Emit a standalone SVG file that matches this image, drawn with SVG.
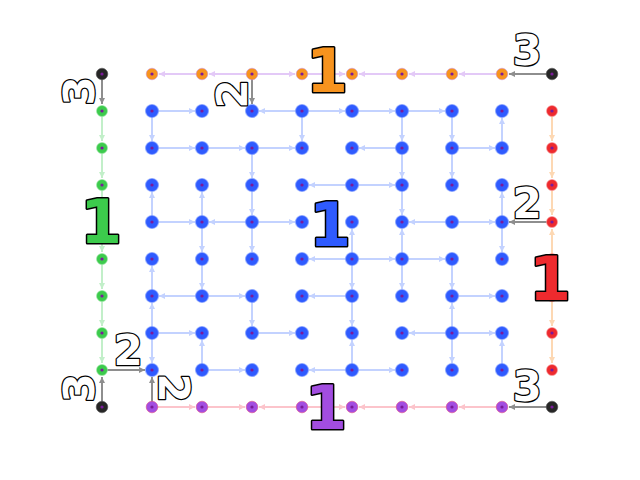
<svg xmlns="http://www.w3.org/2000/svg" xmlns:xlink="http://www.w3.org/1999/xlink" width="640" height="480" viewBox="0 0 640 480">
<style>
.e{fill:none;stroke-width:2;stroke-linecap:butt}
.eb{stroke:#c3d2ff;marker-end:url(#ab)}
.el{stroke:#e3c9f7;marker-end:url(#al)}
.eg{stroke:#c2efc9;marker-end:url(#ag)}
.eo{stroke:#fdd8b3;marker-end:url(#ao)}
.ep{stroke:#fcc4cb;marker-end:url(#ap)}
.ek{stroke:#8e8e8e;marker-end:url(#ak)}
.t1{font-family:"DejaVu Sans",sans-serif;font-weight:bold;font-size:60px;stroke:#000;stroke-width:3;stroke-linejoin:round;paint-order:stroke;text-anchor:middle}
.t2{font-family:"DejaVu Sans",sans-serif;font-weight:bold;font-size:42px;fill:#fff;stroke:#000;stroke-width:2.5;stroke-linejoin:round;paint-order:stroke;text-anchor:middle}
.d{fill:#7a1a9a}
</style>
<defs>
<marker id="ab" markerUnits="userSpaceOnUse" markerWidth="6" markerHeight="6" refX="6" refY="3" orient="auto"><path d="M0,0L6,3L0,6z" fill="#c3d2ff"/></marker>
<marker id="al" markerUnits="userSpaceOnUse" markerWidth="6" markerHeight="6" refX="6" refY="3" orient="auto"><path d="M0,0L6,3L0,6z" fill="#e3c9f7"/></marker>
<marker id="ag" markerUnits="userSpaceOnUse" markerWidth="6" markerHeight="6" refX="6" refY="3" orient="auto"><path d="M0,0L6,3L0,6z" fill="#c2efc9"/></marker>
<marker id="ao" markerUnits="userSpaceOnUse" markerWidth="6" markerHeight="6" refX="6" refY="3" orient="auto"><path d="M0,0L6,3L0,6z" fill="#fdd8b3"/></marker>
<marker id="ap" markerUnits="userSpaceOnUse" markerWidth="6" markerHeight="6" refX="6" refY="3" orient="auto"><path d="M0,0L6,3L0,6z" fill="#fcc4cb"/></marker>
<marker id="ak" markerUnits="userSpaceOnUse" markerWidth="6" markerHeight="6" refX="6" refY="3" orient="auto"><path d="M0,0L6,3L0,6z" fill="#8e8e8e"/></marker>
<g id="nb"><circle r="6.5" fill="#2f5bff" stroke="#7f9cff" stroke-opacity="0.6" stroke-width="1.2"/><circle r="1.6" class="d"/></g>
<g id="no"><circle r="5.8" fill="#f7931e" stroke="#c98ad8" stroke-opacity="0.5" stroke-width="1"/><circle r="1.6" class="d"/></g>
<g id="ng"><circle r="5.5" fill="#3ccb4c" stroke="#9fe8a8" stroke-opacity="0.6" stroke-width="1"/><circle r="1.6" class="d"/></g>
<g id="nr"><circle r="5.5" fill="#ee2a2e" stroke="#f7a0a0" stroke-opacity="0.6" stroke-width="1"/><circle r="1.6" class="d"/></g>
<g id="np"><circle r="5.8" fill="#a24de0" stroke="#e0508a" stroke-opacity="0.6" stroke-width="1"/><circle r="1.6" class="d"/></g>
<g id="nk"><circle r="5.8" fill="#262626" stroke="#555" stroke-opacity="0.6" stroke-width="1"/><circle r="1.6" class="d"/></g>
</defs>
<rect width="640" height="480" fill="#fff"/>
<g id="connectors">
<g id="blue-h">
<line class="e eb" x1="152" y1="111" x2="195" y2="111"/>
<line class="e eb" x1="302" y1="111" x2="259" y2="111"/>
<line class="e eb" x1="302" y1="111" x2="345" y2="111"/>
<line class="e eb" x1="352" y1="111" x2="395" y2="111"/>
<line class="e eb" x1="402" y1="111" x2="445" y2="111"/>
<line class="e eb" x1="152" y1="148" x2="195" y2="148"/>
<line class="e eb" x1="202" y1="148" x2="245" y2="148"/>
<line class="e eb" x1="252" y1="148" x2="295" y2="148"/>
<line class="e eb" x1="402" y1="148" x2="359" y2="148"/>
<line class="e eb" x1="452" y1="148" x2="495" y2="148"/>
<line class="e eb" x1="352" y1="185" x2="309" y2="185"/>
<line class="e eb" x1="352" y1="185" x2="395" y2="185"/>
<line class="e eb" x1="152" y1="222" x2="195" y2="222"/>
<line class="e eb" x1="252" y1="222" x2="209" y2="222"/>
<line class="e eb" x1="252" y1="222" x2="295" y2="222"/>
<line class="e eb" x1="452" y1="222" x2="409" y2="222"/>
<line class="e eb" x1="452" y1="222" x2="495" y2="222"/>
<line class="e eb" x1="352" y1="259" x2="309" y2="259"/>
<line class="e eb" x1="352" y1="259" x2="395" y2="259"/>
<line class="e eb" x1="402" y1="259" x2="445" y2="259"/>
<line class="e eb" x1="202" y1="296" x2="159" y2="296"/>
<line class="e eb" x1="202" y1="296" x2="245" y2="296"/>
<line class="e eb" x1="352" y1="296" x2="309" y2="296"/>
<line class="e eb" x1="452" y1="296" x2="495" y2="296"/>
<line class="e eb" x1="152" y1="333" x2="195" y2="333"/>
<line class="e eb" x1="252" y1="333" x2="295" y2="333"/>
<line class="e eb" x1="452" y1="333" x2="409" y2="333"/>
<line class="e eb" x1="452" y1="333" x2="495" y2="333"/>
<line class="e eb" x1="202" y1="370" x2="245" y2="370"/>
<line class="e eb" x1="352" y1="370" x2="309" y2="370"/>
<line class="e eb" x1="352" y1="370" x2="395" y2="370"/>
</g>
<g id="blue-v">
<line class="e eb" x1="152" y1="111" x2="152" y2="141"/>
<line class="e eb" x1="152" y1="222" x2="152" y2="192"/>
<line class="e eb" x1="152" y1="296" x2="152" y2="266"/>
<line class="e eb" x1="152" y1="333" x2="152" y2="303"/>
<line class="e eb" x1="152" y1="333" x2="152" y2="363"/>
<line class="e eb" x1="202" y1="222" x2="202" y2="192"/>
<line class="e eb" x1="202" y1="222" x2="202" y2="252"/>
<line class="e eb" x1="202" y1="259" x2="202" y2="289"/>
<line class="e eb" x1="202" y1="370" x2="202" y2="340"/>
<line class="e eb" x1="252" y1="148" x2="252" y2="178"/>
<line class="e eb" x1="252" y1="185" x2="252" y2="215"/>
<line class="e eb" x1="252" y1="222" x2="252" y2="252"/>
<line class="e eb" x1="252" y1="296" x2="252" y2="326"/>
<line class="e eb" x1="302" y1="111" x2="302" y2="141"/>
<line class="e eb" x1="352" y1="259" x2="352" y2="229"/>
<line class="e eb" x1="352" y1="259" x2="352" y2="289"/>
<line class="e eb" x1="352" y1="296" x2="352" y2="326"/>
<line class="e eb" x1="352" y1="370" x2="352" y2="340"/>
<line class="e eb" x1="402" y1="111" x2="402" y2="141"/>
<line class="e eb" x1="402" y1="148" x2="402" y2="178"/>
<line class="e eb" x1="402" y1="185" x2="402" y2="215"/>
<line class="e eb" x1="402" y1="259" x2="402" y2="229"/>
<line class="e eb" x1="402" y1="259" x2="402" y2="289"/>
<line class="e eb" x1="452" y1="111" x2="452" y2="141"/>
<line class="e eb" x1="452" y1="148" x2="452" y2="178"/>
<line class="e eb" x1="452" y1="259" x2="452" y2="289"/>
<line class="e eb" x1="452" y1="333" x2="452" y2="303"/>
<line class="e eb" x1="452" y1="333" x2="452" y2="363"/>
<line class="e eb" x1="502" y1="148" x2="502" y2="118"/>
<line class="e eb" x1="502" y1="222" x2="502" y2="192"/>
<line class="e eb" x1="502" y1="222" x2="502" y2="252"/>
<line class="e eb" x1="502" y1="370" x2="502" y2="340"/>
</g>
<g id="top-row">
<line class="e el" x1="202" y1="74" x2="159" y2="74"/>
<line class="e el" x1="252" y1="74" x2="209" y2="74"/>
<line class="e el" x1="252" y1="74" x2="295" y2="74"/>
<line class="e el" x1="302" y1="74" x2="345" y2="74"/>
<line class="e el" x1="402" y1="74" x2="359" y2="74"/>
<line class="e el" x1="452" y1="74" x2="409" y2="74"/>
<line class="e el" x1="502" y1="74" x2="459" y2="74"/>
</g>
<g id="left-col">
<line class="e eg" x1="102" y1="111" x2="102" y2="141"/>
<line class="e eg" x1="102" y1="148" x2="102" y2="178"/>
<line class="e eg" x1="102" y1="185" x2="102" y2="215"/>
<line class="e eg" x1="102" y1="222" x2="102" y2="252"/>
<line class="e eg" x1="102" y1="259" x2="102" y2="289"/>
<line class="e eg" x1="102" y1="296" x2="102" y2="326"/>
<line class="e eg" x1="102" y1="333" x2="102" y2="363"/>
</g>
<g id="right-col">
<line class="e eo" x1="552" y1="111" x2="552" y2="141"/>
<line class="e eo" x1="552" y1="148" x2="552" y2="178"/>
<line class="e eo" x1="552" y1="185" x2="552" y2="215"/>
<line class="e eo" x1="552" y1="259" x2="552" y2="229"/>
<line class="e eo" x1="552" y1="259" x2="552" y2="289"/>
<line class="e eo" x1="552" y1="296" x2="552" y2="326"/>
<line class="e eo" x1="552" y1="333" x2="552" y2="363"/>
</g>
<g id="bottom-row">
<line class="e ep" x1="152" y1="407" x2="195" y2="407"/>
<line class="e ep" x1="202" y1="407" x2="245" y2="407"/>
<line class="e ep" x1="302" y1="407" x2="259" y2="407"/>
<line class="e ep" x1="302" y1="407" x2="345" y2="407"/>
<line class="e ep" x1="402" y1="407" x2="359" y2="407"/>
<line class="e ep" x1="452" y1="407" x2="409" y2="407"/>
<line class="e ep" x1="502" y1="407" x2="459" y2="407"/>
</g>
<g id="gray">
<line class="e ek" x1="102" y1="74" x2="102" y2="104"/>
<line class="e ek" x1="552" y1="74" x2="509" y2="74"/>
<line class="e ek" x1="252" y1="74" x2="252" y2="104"/>
<line class="e ek" x1="102" y1="370" x2="145" y2="370"/>
<line class="e ek" x1="102" y1="407" x2="102" y2="377"/>
<line class="e ek" x1="152" y1="407" x2="152" y2="377"/>
<line class="e ek" x1="552" y1="222" x2="509" y2="222"/>
<line class="e ek" x1="552" y1="407" x2="509" y2="407"/>
</g>
</g>
<g id="k-tl"><use href="#nk" x="102" y="74"/></g>
<g id="k-tr"><use href="#nk" x="552" y="74"/></g>
<g id="k-bl"><use href="#nk" x="102" y="407"/></g>
<g id="k-br"><use href="#nk" x="552" y="407"/></g>
<g id="o1"><use href="#no" x="152" y="74"/></g>
<g id="o2"><use href="#no" x="202" y="74"/></g>
<g id="o3"><use href="#no" x="252" y="74"/></g>
<g id="o4"><use href="#no" x="302" y="74"/></g>
<g id="o5"><use href="#no" x="352" y="74"/></g>
<g id="o6"><use href="#no" x="402" y="74"/></g>
<g id="o7"><use href="#no" x="452" y="74"/></g>
<g id="o8"><use href="#no" x="502" y="74"/></g>
<g id="p1"><use href="#np" x="152" y="407"/></g>
<g id="p2"><use href="#np" x="202" y="407"/></g>
<g id="p3"><use href="#np" x="252" y="407"/></g>
<g id="p4"><use href="#np" x="302" y="407"/></g>
<g id="p5"><use href="#np" x="352" y="407"/></g>
<g id="p6"><use href="#np" x="402" y="407"/></g>
<g id="p7"><use href="#np" x="452" y="407"/></g>
<g id="p8"><use href="#np" x="502" y="407"/></g>
<g id="g1"><use href="#ng" x="102" y="111"/></g>
<g id="g2"><use href="#ng" x="102" y="148"/></g>
<g id="g3"><use href="#ng" x="102" y="185"/></g>
<g id="g4"><use href="#ng" x="102" y="222"/></g>
<g id="g5"><use href="#ng" x="102" y="259"/></g>
<g id="g6"><use href="#ng" x="102" y="296"/></g>
<g id="g7"><use href="#ng" x="102" y="333"/></g>
<g id="g8"><use href="#ng" x="102" y="370"/></g>
<g id="r1"><use href="#nr" x="552" y="111"/></g>
<g id="r2"><use href="#nr" x="552" y="148"/></g>
<g id="r3"><use href="#nr" x="552" y="185"/></g>
<g id="r4"><use href="#nr" x="552" y="222"/></g>
<g id="r5"><use href="#nr" x="552" y="259"/></g>
<g id="r6"><use href="#nr" x="552" y="296"/></g>
<g id="r7"><use href="#nr" x="552" y="333"/></g>
<g id="r8"><use href="#nr" x="552" y="370"/></g>
<g id="b00"><use href="#nb" x="152" y="111"/></g><g id="b01"><use href="#nb" x="202" y="111"/></g><g id="b02"><use href="#nb" x="252" y="111"/></g><g id="b03"><use href="#nb" x="302" y="111"/></g><g id="b04"><use href="#nb" x="352" y="111"/></g><g id="b05"><use href="#nb" x="402" y="111"/></g><g id="b06"><use href="#nb" x="452" y="111"/></g><g id="b07"><use href="#nb" x="502" y="111"/></g>
<g id="b10"><use href="#nb" x="152" y="148"/></g><g id="b11"><use href="#nb" x="202" y="148"/></g><g id="b12"><use href="#nb" x="252" y="148"/></g><g id="b13"><use href="#nb" x="302" y="148"/></g><g id="b14"><use href="#nb" x="352" y="148"/></g><g id="b15"><use href="#nb" x="402" y="148"/></g><g id="b16"><use href="#nb" x="452" y="148"/></g><g id="b17"><use href="#nb" x="502" y="148"/></g>
<g id="b20"><use href="#nb" x="152" y="185"/></g><g id="b21"><use href="#nb" x="202" y="185"/></g><g id="b22"><use href="#nb" x="252" y="185"/></g><g id="b23"><use href="#nb" x="302" y="185"/></g><g id="b24"><use href="#nb" x="352" y="185"/></g><g id="b25"><use href="#nb" x="402" y="185"/></g><g id="b26"><use href="#nb" x="452" y="185"/></g><g id="b27"><use href="#nb" x="502" y="185"/></g>
<g id="b30"><use href="#nb" x="152" y="222"/></g><g id="b31"><use href="#nb" x="202" y="222"/></g><g id="b32"><use href="#nb" x="252" y="222"/></g><g id="b33"><use href="#nb" x="302" y="222"/></g><g id="b34"><use href="#nb" x="352" y="222"/></g><g id="b35"><use href="#nb" x="402" y="222"/></g><g id="b36"><use href="#nb" x="452" y="222"/></g><g id="b37"><use href="#nb" x="502" y="222"/></g>
<g id="b40"><use href="#nb" x="152" y="259"/></g><g id="b41"><use href="#nb" x="202" y="259"/></g><g id="b42"><use href="#nb" x="252" y="259"/></g><g id="b43"><use href="#nb" x="302" y="259"/></g><g id="b44"><use href="#nb" x="352" y="259"/></g><g id="b45"><use href="#nb" x="402" y="259"/></g><g id="b46"><use href="#nb" x="452" y="259"/></g><g id="b47"><use href="#nb" x="502" y="259"/></g>
<g id="b50"><use href="#nb" x="152" y="296"/></g><g id="b51"><use href="#nb" x="202" y="296"/></g><g id="b52"><use href="#nb" x="252" y="296"/></g><g id="b53"><use href="#nb" x="302" y="296"/></g><g id="b54"><use href="#nb" x="352" y="296"/></g><g id="b55"><use href="#nb" x="402" y="296"/></g><g id="b56"><use href="#nb" x="452" y="296"/></g><g id="b57"><use href="#nb" x="502" y="296"/></g>
<g id="b60"><use href="#nb" x="152" y="333"/></g><g id="b61"><use href="#nb" x="202" y="333"/></g><g id="b62"><use href="#nb" x="252" y="333"/></g><g id="b63"><use href="#nb" x="302" y="333"/></g><g id="b64"><use href="#nb" x="352" y="333"/></g><g id="b65"><use href="#nb" x="402" y="333"/></g><g id="b66"><use href="#nb" x="452" y="333"/></g><g id="b67"><use href="#nb" x="502" y="333"/></g>
<g id="b70"><use href="#nb" x="152" y="370"/></g><g id="b71"><use href="#nb" x="202" y="370"/></g><g id="b72"><use href="#nb" x="252" y="370"/></g><g id="b73"><use href="#nb" x="302" y="370"/></g><g id="b74"><use href="#nb" x="352" y="370"/></g><g id="b75"><use href="#nb" x="402" y="370"/></g><g id="b76"><use href="#nb" x="452" y="370"/></g><g id="b77"><use href="#nb" x="502" y="370"/></g>
<g id="labels">
<text class="t1" x="327" y="92" fill="#f7931e">1</text>
<text class="t1" x="101" y="243" fill="#3ccb4c">1</text>
<text class="t1" x="330" y="246" fill="#2f5bff">1</text>
<text class="t1" x="550" y="300" fill="#ee2a2e">1</text>
<text class="t1" x="326" y="429" fill="#a24de0">1</text>
<text class="t2" x="527" y="65">3</text>
<text class="t2" x="527" y="401">3</text>
<text class="t2" x="527" y="218">2</text>
<text class="t2" x="128" y="365">2</text>
<text class="t2" transform="translate(79,91) rotate(-90)" x="0" y="15">3</text>
<text class="t2" transform="translate(79,388) rotate(-90)" x="0" y="15">3</text>
<text class="t2" transform="translate(232,94) rotate(-90)" x="0" y="15">2</text>
<text class="t2" transform="translate(174,388) rotate(90)" x="0" y="15">2</text>
</g>
</svg>
